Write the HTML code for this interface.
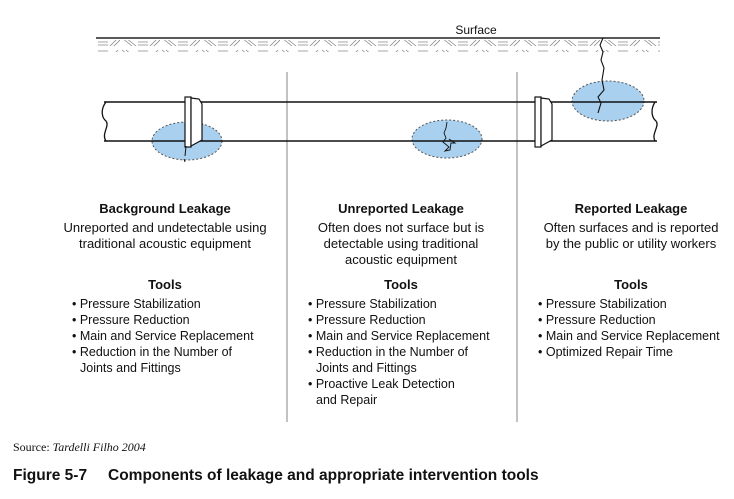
<!DOCTYPE html>
<html><head><meta charset="utf-8"><style>
body{margin:0;background:#fff}
svg text{font-family:"Liberation Sans",sans-serif;fill:#111}
</style></head><body>
<svg width="734" height="494" viewBox="0 0 734 494" xmlns="http://www.w3.org/2000/svg">
<defs>
<pattern id="h" width="40" height="12" patternUnits="userSpaceOnUse">
<path d="M2 2 L12 10 M6 2 L16 10 M18 3 L28 3 M18 6 L28 6 M18 9 L28 9 M30 10 L38 2 M34 10 L40 4" stroke="#888" stroke-width="0.8" fill="none"/>
</pattern>
</defs>
<line x1="96" y1="38" x2="660" y2="38" stroke="#222" stroke-width="1.5"/>
<rect x="96" y="40" width="564" height="12" fill="url(#h)"/>
<text x="476" y="34" font-size="12" text-anchor="middle">Surface</text>
<line x1="287" y1="72" x2="287" y2="422" stroke="#999" stroke-width="1.2"/>
<line x1="517" y1="72" x2="517" y2="422" stroke="#999" stroke-width="1.2"/>
<ellipse cx="187" cy="141" rx="35" ry="19" fill="#a9d0ee" stroke="#555" stroke-dasharray="2,2"/>
<ellipse cx="447" cy="139" rx="35" ry="19" fill="#a9d0ee" stroke="#555" stroke-dasharray="2,2"/>
<ellipse cx="608" cy="101" rx="36" ry="20" fill="#a9d0ee" stroke="#555" stroke-dasharray="2,2"/>
<line x1="104" y1="102" x2="657" y2="102" stroke="#111" stroke-width="1.5"/>
<line x1="104" y1="141" x2="657" y2="141" stroke="#111" stroke-width="1.5"/>
<path d="M106 102 C100 110 102 118 106 121 C110 126 101 134 106 141" stroke="#111" fill="none" stroke-width="1.3"/>
<path d="M655 102 C650 110 652 118 656 121 C660 126 651 134 655 141" stroke="#111" fill="none" stroke-width="1.3"/>
<rect x="185" y="97" width="6" height="50" fill="#fff" stroke="#111" stroke-width="1.2"/>
<path d="M191 98 L199 99 L202 104 L202 140 L191 146 Z" fill="#fff" stroke="#111" stroke-width="1.2"/>
<path d="M186 146 L185 156 M184 159 L185 162" stroke="#111"/>
<rect x="535" y="97" width="6" height="50" fill="#fff" stroke="#111" stroke-width="1.2"/>
<path d="M541 98 L549 99 L552 104 L552 140 L541 146 Z" fill="#fff" stroke="#111" stroke-width="1.2"/>
<path d="M447 122 L446 128 L444 133 L446 138 L443 142 L449 147 L445 151 L450 150 L451 143 L455 143 L449 139" stroke="#111" fill="none" stroke-width="0.9"/>
<path d="M603 38 L600 45 L603 52 L601 60 L604 68 L602 80 L604 90 L598 97 L601 103 L598 113" stroke="#111" fill="none" stroke-width="1.1"/>
<g font-size="13" text-anchor="middle">
<text x="165" y="213" font-weight="bold">Background Leakage</text>
<text x="165" y="232">Unreported and undetectable using</text>
<text x="165" y="248">traditional acoustic equipment</text>
<text x="165" y="289" font-weight="bold">Tools</text>
<text x="401" y="213" font-weight="bold">Unreported Leakage</text>
<text x="401" y="232">Often does not surface but is</text>
<text x="401" y="248">detectable using traditional</text>
<text x="401" y="264">acoustic equipment</text>
<text x="401" y="289" font-weight="bold">Tools</text>
<text x="631" y="213" font-weight="bold">Reported Leakage</text>
<text x="631" y="232">Often surfaces and is reported</text>
<text x="631" y="248">by the public or utility workers</text>
<text x="631" y="289" font-weight="bold">Tools</text>
</g>
<g font-size="12.5">
<text x="72" y="308">• Pressure Stabilization</text>
<text x="72" y="324">• Pressure Reduction</text>
<text x="72" y="340">• Main and Service Replacement</text>
<text x="72" y="356">• Reduction in the Number of</text>
<text x="80" y="372">Joints and Fittings</text>
<text x="308" y="308">• Pressure Stabilization</text>
<text x="308" y="324">• Pressure Reduction</text>
<text x="308" y="340">• Main and Service Replacement</text>
<text x="308" y="356">• Reduction in the Number of</text>
<text x="316" y="372">Joints and Fittings</text>
<text x="308" y="388">• Proactive Leak Detection</text>
<text x="316" y="404">and Repair</text>
<text x="538" y="308">• Pressure Stabilization</text>
<text x="538" y="324">• Pressure Reduction</text>
<text x="538" y="340">• Main and Service Replacement</text>
<text x="538" y="356">• Optimized Repair Time</text>
</g>
<text x="13" y="451" font-size="12" style="font-family:'Liberation Serif',serif">Source: <tspan font-style="italic">Tardelli Filho 2004</tspan></text>
<text x="13" y="480" font-size="15.5" font-weight="bold">Figure 5-7<tspan x="108">Components of leakage and appropriate intervention tools</tspan></text>
</svg>
</body></html>
